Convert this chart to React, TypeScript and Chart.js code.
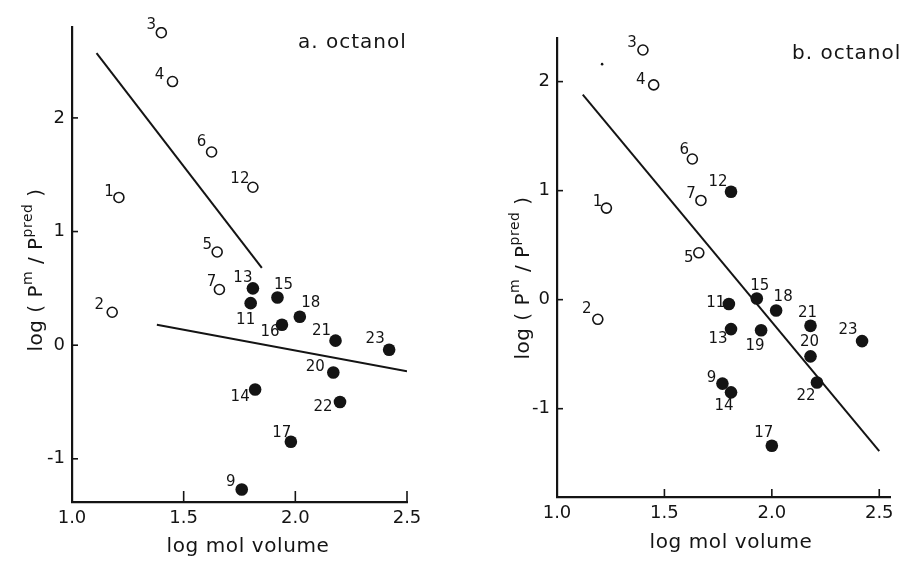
import React, { useEffect, useRef } from "react";
import { Chart, registerables } from "chart.js";

Chart.register(...registerables);

const FONT = '"DejaVu Sans", "Liberation Sans", sans-serif';
const INK = "#141414";

// ---------- shared axis ticks ----------
const xTickValues = [1.0, 1.5, 2.0, 2.5];
const xTickLabels = ["1.0", "1.5", "2.0", "2.5"];
const yTickValues = [-1, 0, 1, 2];
const yTickLabels = ["-1", "0", "1", "2"];

// ---------- panel a ----------
const aOpenIds = ["1", "2", "3", "4", "5", "6", "7", "12"];
const aOpenX = [1.21, 1.18, 1.4, 1.45, 1.65, 1.625, 1.66, 1.81];
const aOpenY = [1.3, 0.29, 2.75, 2.32, 0.82, 1.7, 0.49, 1.39];
const aOpenLabelOffset = [[-10, -5], [-13, -7], [-10, -8], [-13, -6], [-10, -7], [-10, -10], [-8, -7], [-13, -8]];

const aFilledIds = ["9", "11", "13", "14", "15", "16", "17", "18", "20", "21", "22", "23"];
const aFilledX = [1.76, 1.8, 1.81, 1.82, 1.92, 1.94, 1.98, 2.02, 2.17, 2.18, 2.2, 2.42];
const aFilledY = [-1.27, 0.37, 0.5, -0.39, 0.42, 0.18, -0.85, 0.25, -0.24, 0.04, -0.5, -0.04];
const aFilledLabelOffset = [[-11, -7], [-5, 17], [-10, -10], [-15, 8], [6, -12], [-12, 7], [-9, -9], [11, -14], [-18, -5], [-14, -10], [-17, 5], [-14, -11]];

const aLine1X = [1.11, 1.85];
const aLine1Y = [2.57, 0.68];
const aLine2X = [1.38, 2.5];
const aLine2Y = [0.18, -0.23];

// ---------- panel b ----------
const bOpenIds = ["1", "2", "3", "4", "5", "6", "7"];
const bOpenX = [1.23, 1.19, 1.4, 1.45, 1.66, 1.63, 1.67];
const bOpenY = [0.84, -0.18, 2.29, 1.97, 0.43, 1.29, 0.91];
const bOpenLabelOffset = [[-9, -6], [-11, -10], [-11, -7], [-13, -5], [-10, 5], [-8, -9], [-10, -6]];

const bFilledIds = ["9", "11", "12", "13", "14", "15", "17", "18", "19", "20", "21", "22", "23"];
const bFilledX = [1.77, 1.8, 1.81, 1.81, 1.81, 1.93, 2.0, 2.02, 1.95, 2.18, 2.18, 2.21, 2.42];
const bFilledY = [-0.77, -0.04, 0.99, -0.27, -0.85, 0.01, -1.34, -0.1, -0.28, -0.52, -0.24, -0.76, -0.38];
const bFilledLabelOffset = [[-11, -6], [-13, -1], [-13, -10], [-13, 10], [-7, 14], [3, -12], [-8, -13], [7, -13], [-6, 16], [-1, -14], [-3, -13], [-11, 14], [-14, -11]];

const bLineX = [1.12, 2.5];
const bLineY = [1.88, -1.39];

const bStrayX = [1.21];
const bStrayY = [2.16];

type Spec = {
  canvasLeft: number;
  width: number;
  height: number;
  area: { left: number; right: number; top: number; bottom: number };
  xMin: number;
  xMax: number;
  yMin: number;
  yMax: number;
  openX: number[];
  openY: number[];
  openIds: string[];
  openOff: number[][];
  filledX: number[];
  filledY: number[];
  filledIds: string[];
  filledOff: number[][];
  lines: { x: number[]; y: number[] }[];
  strayX?: number[];
  strayY?: number[];
  title: string;
  titleX: number;
  titleY: number;
  xTitleX: number;
  xTitleY: number;
  yTitleX: number;
  yTitleY: number;
  xTickLen: number;
  yTickLen: number;
};

const specA: Spec = {
  canvasLeft: 0,
  width: 450,
  height: 561,
  area: { left: 72, right: 407, top: 27, bottom: 502 },
  xMin: 1.0,
  xMax: 2.5,
  yMin: -1.38,
  yMax: 2.8,
  openX: aOpenX,
  openY: aOpenY,
  openIds: aOpenIds,
  openOff: aOpenLabelOffset,
  filledX: aFilledX,
  filledY: aFilledY,
  filledIds: aFilledIds,
  filledOff: aFilledLabelOffset,
  lines: [
    { x: aLine1X, y: aLine1Y },
    { x: aLine2X, y: aLine2Y },
  ],
  title: "a. octanol",
  titleX: 298,
  titleY: 48,
  xTitleX: 248,
  xTitleY: 547,
  yTitleX: 31,
  yTitleY: 270,
  xTickLen: 11,
  yTickLen: 6,
};

const specB: Spec = {
  canvasLeft: 450,
  width: 454,
  height: 561,
  area: { left: 107, right: 440, top: 38, bottom: 497 },
  xMin: 1.0,
  xMax: 2.55,
  yMin: -1.81,
  yMax: 2.4,
  openX: bOpenX,
  openY: bOpenY,
  openIds: bOpenIds,
  openOff: bOpenLabelOffset,
  filledX: bFilledX,
  filledY: bFilledY,
  filledIds: bFilledIds,
  filledOff: bFilledLabelOffset,
  lines: [{ x: bLineX, y: bLineY }],
  strayX: bStrayX,
  strayY: bStrayY,
  title: "b. octanol",
  titleX: 342,
  titleY: 59,
  xTitleX: 281,
  xTitleY: 543,
  yTitleX: 68,
  yTitleY: 278,
  xTickLen: 8,
  yTickLen: 6,
};

function drawYTitle(ctx: CanvasRenderingContext2D, cx: number, cy: number) {
  const main = `20px ${FONT}`;
  const sup = `14px ${FONT}`;
  const parts: { t: string; f: string; dy: number }[] = [
    { t: "log ( P", f: main, dy: 0 },
    { t: "m", f: sup, dy: -9 },
    { t: " / P", f: main, dy: 0 },
    { t: "pred", f: sup, dy: -9 },
    { t: " )", f: main, dy: 0 },
  ];
  ctx.save();
  ctx.translate(cx, cy);
  ctx.rotate(-Math.PI / 2);
  (ctx as any).letterSpacing = "0.5px";
  let total = 0;
  for (const p of parts) {
    ctx.font = p.f;
    total += ctx.measureText(p.t).width;
  }
  let x = -total / 2;
  ctx.fillStyle = INK;
  ctx.textBaseline = "middle";
  ctx.textAlign = "left";
  for (const p of parts) {
    ctx.font = p.f;
    ctx.fillText(p.t, x, p.dy + 6);
    x += ctx.measureText(p.t).width;
  }
  ctx.restore();
}

function Panel({ spec }: { spec: Spec }) {
  const ref = useRef<HTMLCanvasElement | null>(null);
  useEffect(() => {
    const canvas = ref.current;
    if (!canvas) return;
    const s = spec;
    const pts = (xs: number[], ys: number[]) => xs.map((x, i) => ({ x, y: ys[i] }));

    const datasets: any[] = [
      ...s.lines.map((l) => ({
        data: pts(l.x, l.y),
        showLine: true,
        borderColor: INK,
        borderWidth: 2,
        pointRadius: 0,
        fill: false,
      })),
      {
        data: pts(s.openX, s.openY),
        pointRadius: 5,
        pointBorderWidth: 1.6,
        pointBackgroundColor: "#ffffff",
        pointBorderColor: INK,
        showLine: false,
      },
      {
        data: pts(s.filledX, s.filledY),
        pointRadius: 6.3,
        pointBorderWidth: 0,
        pointBackgroundColor: INK,
        pointBorderColor: INK,
        showLine: false,
      },
    ];
    if (s.strayX && s.strayY) {
      datasets.push({
        data: pts(s.strayX, s.strayY),
        pointRadius: 1.3,
        pointBorderWidth: 0,
        pointBackgroundColor: INK,
        showLine: false,
      });
    }

    const openIndex = s.lines.length;
    const filledIndex = s.lines.length + 1;

    const decor = {
      id: "decor",
      afterDatasetsDraw(chart: any) {
        const ctx: CanvasRenderingContext2D = chart.ctx;
        const xs = chart.scales.x;
        const ys = chart.scales.y;
        const a = chart.chartArea;
        ctx.save();
        ctx.strokeStyle = INK;
        ctx.lineWidth = 1.6;
        // inward tick marks
        for (const v of xTickValues) {
          if (v > s.xMax) continue;
          const px = xs.getPixelForValue(v);
          ctx.beginPath();
          ctx.moveTo(px, a.bottom);
          ctx.lineTo(px, a.bottom - s.xTickLen);
          ctx.stroke();
        }
        for (const v of yTickValues) {
          const py = ys.getPixelForValue(v);
          ctx.beginPath();
          ctx.moveTo(a.left, py);
          ctx.lineTo(a.left + s.yTickLen, py);
          ctx.stroke();
        }
        // point labels
        ctx.fillStyle = INK;
        ctx.font = `15px ${FONT}`;
        ctx.textAlign = "center";
        ctx.textBaseline = "middle";
        const label = (dsIndex: number, ids: string[], off: number[][]) => {
          const meta = chart.getDatasetMeta(dsIndex);
          meta.data.forEach((el: any, i: number) => {
            ctx.fillText(ids[i], el.x + off[i][0], el.y + off[i][1]);
          });
        };
        label(openIndex, s.openIds, s.openOff);
        label(filledIndex, s.filledIds, s.filledOff);
        // titles
        (ctx as any).letterSpacing = "1px";
        ctx.font = `20px ${FONT}`;
        ctx.textAlign = "left";
        ctx.textBaseline = "alphabetic";
        ctx.fillText(s.title, s.titleX, s.titleY);
        (ctx as any).letterSpacing = "0.6px";
        ctx.textAlign = "center";
        ctx.textBaseline = "middle";
        ctx.fillText("log mol volume", s.xTitleX, s.xTitleY);
        ctx.restore();
        drawYTitle(ctx, s.yTitleX, s.yTitleY);
      },
    };

    const chart = new Chart(canvas, {
      type: "scatter",
      data: { datasets },
      options: {
        responsive: false,
        animation: false,
        events: [],
        layout: {
          padding: { left: 0, top: s.area.top, right: s.width - s.area.right, bottom: 0 },
        },
        plugins: {
          legend: { display: false },
          tooltip: { enabled: false },
        },
        scales: {
          x: {
            type: "linear",
            min: s.xMin,
            max: s.xMax,
            grid: { display: false, drawTicks: false },
            border: { display: true, color: INK, width: 2.2 },
            afterBuildTicks: (scale: any) => {
              scale.ticks = xTickValues.filter((v) => v <= s.xMax).map((v) => ({ value: v }));
            },
            afterFit: (scale: any) => {
              scale.height = s.height - s.area.bottom;
            },
            ticks: {
              color: INK,
              padding: 6,
              maxRotation: 0,
              font: { family: FONT, size: 18 },
              callback: (_v: any, i: number) => xTickLabels[i],
            },
          },
          y: {
            type: "linear",
            min: s.yMin,
            max: s.yMax,
            grid: { display: false, drawTicks: false },
            border: { display: true, color: INK, width: 2.2 },
            afterBuildTicks: (scale: any) => {
              scale.ticks = yTickValues.map((v) => ({ value: v }));
            },
            afterFit: (scale: any) => {
              scale.width = s.area.left;
            },
            ticks: {
              color: INK,
              padding: 7,
              font: { family: FONT, size: 18 },
              callback: (_v: any, i: number) => yTickLabels[i],
            },
          },
        },
      },
      plugins: [decor],
    } as any);
    return () => chart.destroy();
  }, [spec]);

  return (
    <div style={{ position: "absolute", left: spec.canvasLeft, top: 0, width: spec.width, height: spec.height }}>
      <canvas ref={ref} width={spec.width} height={spec.height} style={{ display: "block" }} />
    </div>
  );
}

export default function App() {
  return (
    <div style={{ position: "fixed", left: 0, top: 0, width: 904, height: 561, background: "#ffffff", overflow: "hidden" }}>
      <Panel spec={specA} />
      <Panel spec={specB} />
    </div>
  );
}
